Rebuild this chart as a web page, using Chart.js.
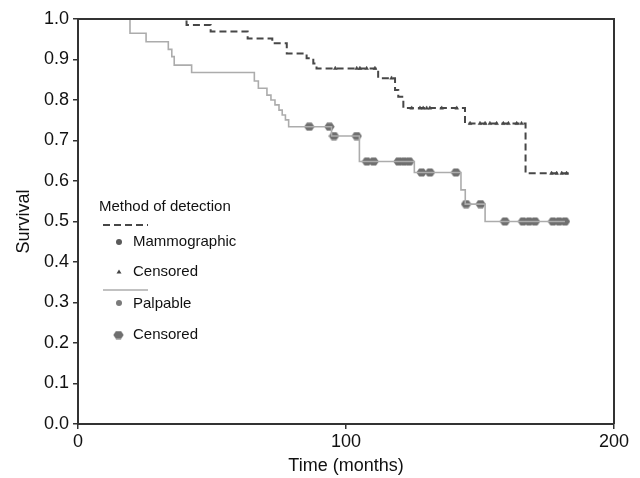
<!DOCTYPE html>
<html><head><meta charset="utf-8">
<script src="https://cdn.jsdelivr.net/npm/chart.js@4.4.1/dist/chart.umd.min.js"></script>
<style>html,body{margin:0;padding:0;background:#fff;}#wrap{position:relative;width:640px;height:478px;}</style>
</head><body><div id="wrap"><canvas id="c" width="640" height="478"></canvas></div>
<script>
// Mammographic (dashed) Kaplan-Meier steps: time (months) and survival after the step
const mammoTimes = [0, 40.5, 49.5, 63.3, 72.5, 77.9, 85.3, 87.8, 89.0, 112.0, 118.3, 119.5, 121.4, 144.4, 167.0, 183.6];
const mammoSurv  = [1.0, 0.985, 0.969, 0.952, 0.940, 0.915, 0.903, 0.890, 0.878, 0.854, 0.825, 0.808, 0.780, 0.742, 0.619, 0.619];
// Mammographic censored observations
const mammoCensTimes = [96.0, 104.0, 105.2, 107.7, 110.8, 117.0, 124.5, 127.6, 128.8, 130.1, 131.3, 135.7, 141.3, 146.3, 150.0, 151.9, 153.7, 156.2, 158.7, 160.6, 163.7, 165.5, 176.7, 178.6, 180.5, 182.3];
const mammoCensSurv  = [0.878, 0.878, 0.878, 0.878, 0.878, 0.854, 0.780, 0.780, 0.780, 0.780, 0.780, 0.780, 0.780, 0.742, 0.742, 0.742, 0.742, 0.742, 0.742, 0.742, 0.742, 0.742, 0.619, 0.619, 0.619, 0.619];
// Palpable (solid) Kaplan-Meier steps
const palpTimes = [0, 19.4, 25.4, 33.7, 35.0, 35.9, 42.4, 65.8, 67.3, 70.5, 72.0, 73.5, 75.0, 76.2, 77.4, 78.6, 94.6, 105.0, 125.5, 142.9, 144.5, 151.9, 181.7];
const palpSurv  = [1.0, 0.965, 0.944, 0.925, 0.907, 0.886, 0.868, 0.847, 0.829, 0.812, 0.800, 0.788, 0.775, 0.763, 0.751, 0.734, 0.711, 0.648, 0.621, 0.578, 0.543, 0.500, 0.500];
// Palpable censored observations
const palpCensTimes = [86.3, 93.8, 95.5, 104.0, 107.8, 110.3, 119.6, 121.6, 123.6, 128.2, 131.3, 141.0, 144.8, 150.2, 159.3, 166.0, 168.3, 170.5, 177.2, 179.5, 181.7];
const palpCensSurv  = [0.734, 0.734, 0.711, 0.711, 0.648, 0.648, 0.648, 0.648, 0.648, 0.621, 0.621, 0.621, 0.543, 0.543, 0.500, 0.500, 0.500, 0.500, 0.500, 0.500, 0.500];
// Axis ticks
const xTickValues = [0, 100, 200];
const yTickStep = 0.1;
const legendTitle = 'Method of detection';
const legendLabels = ['Mammographic', 'Censored', 'Palpable', 'Censored'];

const FONT = "'Liberation Sans', Arial, Helvetica, sans-serif";
const toXY = (xs, ys) => xs.map((x, i) => ({x: x, y: ys[i]}));

// hexagon-like censor marker (slightly wider than tall)
const censorMark = document.createElement('canvas');
censorMark.width = 11; censorMark.height = 9;
(function () {
  const g = censorMark.getContext('2d');
  g.fillStyle = '#6f6f6f';
  g.beginPath();
  g.moveTo(0.3, 4.5); g.lineTo(3, 0.4); g.lineTo(8, 0.4); g.lineTo(10.7, 4.5); g.lineTo(8, 8.6); g.lineTo(3, 8.6);
  g.closePath(); g.fill();
})();

const framePlugin = {
  id: 'frame',
  afterDatasetsDraw(chart) {
    const {ctx, chartArea: a} = chart;
    ctx.save();
    ctx.strokeStyle = '#333';
    ctx.lineWidth = 2;
    ctx.beginPath();
    ctx.moveTo(a.left, a.top);
    ctx.lineTo(a.right, a.top);
    ctx.lineTo(a.right, a.bottom);
    ctx.stroke();
    ctx.restore();
  }
};

const legendPlugin = {
  id: 'kmLegend',
  afterDraw(chart) {
    const ctx = chart.ctx;
    const ds = chart.data.datasets;
    ctx.save();
    ctx.fillStyle = '#111';
    ctx.textBaseline = 'middle';
    ctx.textAlign = 'left';
    ctx.font = '15px ' + FONT;
    ctx.fillText(legendTitle, 99, 207);
    ctx.strokeStyle = ds[0].borderColor; ctx.lineWidth = ds[0].borderWidth;
    ctx.setLineDash(ds[0].borderDash);
    ctx.beginPath(); ctx.moveTo(103, 225); ctx.lineTo(148, 225); ctx.stroke();
    ctx.setLineDash([]);
    ctx.fillStyle = '#5a5a5a';
    ctx.beginPath(); ctx.arc(119, 242, 3, 0, Math.PI * 2); ctx.fill();
    ctx.fillStyle = ds[1].backgroundColor;
    ctx.beginPath(); ctx.moveTo(119, 269.5); ctx.lineTo(121.5, 273.5); ctx.lineTo(116.5, 273.5); ctx.closePath(); ctx.fill();
    ctx.strokeStyle = ds[2].borderColor; ctx.lineWidth = ds[2].borderWidth;
    ctx.beginPath(); ctx.moveTo(103, 290); ctx.lineTo(148, 290); ctx.stroke();
    ctx.fillStyle = '#7a7a7a';
    ctx.beginPath(); ctx.arc(119, 303, 3, 0, Math.PI * 2); ctx.fill();
    ctx.drawImage(censorMark, 113, 330.5);
    ctx.fillStyle = '#111';
    ctx.fillText(legendLabels[0], 133, 242);
    ctx.fillText(legendLabels[1], 133, 272);
    ctx.fillText(legendLabels[2], 133, 304);
    ctx.fillText(legendLabels[3], 133, 335);
    ctx.restore();
  }
};

new Chart(document.getElementById('c'), {
  type: 'line',
  data: {
    datasets: [
      {label: 'Mammographic', data: toXY(mammoTimes, mammoSurv), stepped: 'before', borderColor: '#474747', borderWidth: 2, borderDash: [7, 4], pointRadius: 0, fill: false},
      {label: 'Censored', type: 'scatter', data: toXY(mammoCensTimes, mammoCensSurv), pointStyle: 'triangle', pointRadius: 2.2, backgroundColor: '#444', borderColor: '#444', borderWidth: 0.5, showLine: false},
      {label: 'Palpable', data: toXY(palpTimes, palpSurv), stepped: 'before', borderColor: '#acacac', borderWidth: 1.6, pointRadius: 0, fill: false},
      {label: 'Censored', type: 'scatter', data: toXY(palpCensTimes, palpCensSurv), pointStyle: censorMark, pointRadius: 5, backgroundColor: '#6f6f6f', borderColor: '#6f6f6f', showLine: false}
    ]
  },
  options: {
    responsive: false,
    animation: false,
    layout: {padding: {top: 19, right: 26, left: 0, bottom: 0}},
    plugins: {legend: {display: false}, tooltip: {enabled: false}},
    scales: {
      x: {
        type: 'linear', min: 0, max: 200,
        afterBuildTicks(s) { s.ticks = xTickValues.map(v => ({value: v})); },
        ticks: {color: '#111', font: {family: FONT, size: 18}, padding: 2, maxRotation: 0, autoSkip: false},
        grid: {drawOnChartArea: false, drawTicks: true, tickLength: 5, color: '#333', lineWidth: 1.5},
        border: {color: '#333', width: 2},
        title: {display: true, text: 'Time (months)', color: '#111', font: {family: FONT, size: 18}, padding: {top: 0, bottom: 1}},
        afterFit(s) { s.height = 54; }
      },
      y: {
        type: 'linear', min: 0, max: 1,
        ticks: {stepSize: yTickStep, color: '#111', font: {family: FONT, size: 18}, padding: 4, callback: v => Number(v).toFixed(1)},
        grid: {drawOnChartArea: false, drawTicks: true, tickLength: 5, color: '#333', lineWidth: 1.5},
        border: {color: '#333', width: 2},
        title: {display: true, text: 'Survival', color: '#111', font: {family: FONT, size: 18}, padding: {top: 13, bottom: 0}},
        afterFit(s) { s.width = 78; }
      }
    }
  },
  plugins: [framePlugin, legendPlugin]
});
</script></body></html>
